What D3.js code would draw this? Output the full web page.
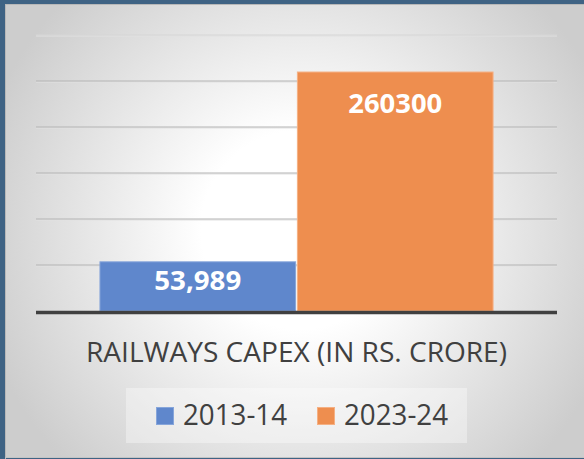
<!DOCTYPE html>
<html lang="en">
<head>
    <meta charset="utf-8">
    <title>Railways capex</title>
    <script type="text/javascript" src="https://d3js.org/d3.v7.min.js"></script>
    <style type="text/css">
        html, body { margin: 0; padding: 0; background: #3f6384; }
        svg { display: block; font-family: "Open Sans", sans-serif; }
    </style>
</head>
<body>
<script type="text/javascript">

    var categories = ["RAILWAYS CAPEX (IN RS. CRORE)"];
    var series = ["2013-14", "2023-24"];
    var values = [53989, 260300];
    var valueLabels = ["53,989", "260300"];
    var yTicks = [0, 50000, 100000, 150000, 200000, 250000, 300000];

    var colors = ["#5f87cc", "#ee8e4f"];
    var borders = ["#86a5da", "#f5b083"];

    var width = 584, height = 459;

    var svg = d3.select("body")
        .append("svg")
        .attr("width", width)
        .attr("height", height);

    var defs = svg.append("defs");
    var grad = defs.append("radialGradient")
        .attr("id", "bg")
        .attr("gradientUnits", "userSpaceOnUse")
        .attr("cx", 300).attr("cy", 230).attr("r", 330);
    grad.append("stop").attr("offset", "0%").attr("stop-color", "#ffffff");
    grad.append("stop").attr("offset", "30%").attr("stop-color", "#ffffff");
    grad.append("stop").attr("offset", "100%").attr("stop-color", "#cdcdcd");

    // chart area inside the dark frame
    svg.append("rect")
        .attr("x", 5).attr("y", 4)
        .attr("width", width - 5).attr("height", height - 5)
        .attr("fill", "url(#bg)");
    svg.append("line")
        .attr("x1", 5).attr("x2", width)
        .attr("y1", 4.5).attr("y2", 4.5)
        .attr("stroke", "#b8b8b8");
    svg.append("line")
        .attr("x1", 5.5).attr("x2", 5.5)
        .attr("y1", 4).attr("y2", height)
        .attr("stroke", "#b8b8b8");
    svg.append("line")
        .attr("x1", 5).attr("x2", width)
        .attr("y1", height - 1.5).attr("y2", height - 1.5)
        .attr("stroke", "#c4c4c4");

    var plotLeft = 36, plotRight = 557, plotTop = 35, plotBottom = 311;

    var y = d3.scaleLinear()
        .domain([0, 300000])
        .range([plotBottom, plotTop]);

    var x0 = d3.scaleBand()
        .domain(categories)
        .range([plotLeft, plotRight])
        .paddingOuter(0.161);

    var x1 = d3.scaleBand()
        .domain(series)
        .range([0, x0.bandwidth()])
        .paddingInner(0.004);

    // gridlines
    var grid = svg.append("g");
    grid.selectAll(".g1")
        .data(yTicks.slice(1))
        .enter().append("line")
        .attr("x1", plotLeft).attr("x2", plotRight)
        .attr("y1", function(d) { return y(d) + 1; })
        .attr("y2", function(d) { return y(d) + 1; })
        .attr("stroke", "#e2e2e2")
        .attr("stroke-width", 1);
    grid.selectAll(".g2")
        .data(yTicks.slice(1))
        .enter().append("line")
        .attr("x1", plotLeft).attr("x2", plotRight)
        .attr("y1", function(d) { return y(d); })
        .attr("y2", function(d) { return y(d); })
        .attr("stroke", function(d, i) { return i == yTicks.length - 2 ? "#d6d6d6" : "#b4b4b4"; })
        .attr("stroke-width", 1.2);

    // bars
    var bars = svg.append("g")
        .attr("transform", "translate(" + x0(categories[0]) + ",0)");

    bars.selectAll("rect")
        .data(values)
        .enter().append("rect")
        .attr("x", function(d, i) { return x1(series[i]) + 0.5; })
        .attr("y", function(d) { return y(d) + 0.5; })
        .attr("width", x1.bandwidth() - 1)
        .attr("height", function(d) { return y(0) - y(d) - 0.5; })
        .attr("fill", function(d, i) { return colors[i]; })
        .attr("stroke", function(d, i) { return borders[i]; })
        .attr("stroke-width", 1);

    var labelDy = [28.5, 41];
    bars.selectAll(".lbl")
        .data(values)
        .enter().append("text")
        .attr("class", "lbl")
        .attr("x", function(d, i) { return x1(series[i]) + x1.bandwidth() / 2; })
        .attr("y", function(d, i) { return y(d) + labelDy[i]; })
        .attr("text-anchor", "middle")
        .attr("fill", "#ffffff")
        .attr("font-weight", "bold")
        .attr("font-size", "26px")
        .attr("textLength", function(d, i) { return i == 0 ? 87 : 94; })
        .attr("lengthAdjust", "spacingAndGlyphs")
        .text(function(d, i) { return valueLabels[i]; });

    // baseline axis
    svg.append("line")
        .attr("x1", plotLeft).attr("x2", plotRight)
        .attr("y1", y(0) + 1.5).attr("y2", y(0) + 1.5)
        .attr("stroke", "#404040")
        .attr("stroke-width", 3.5);

    // category title
    svg.append("text")
        .attr("x", x0(categories[0]) + x0.bandwidth() / 2)
        .attr("y", 362)
        .attr("text-anchor", "middle")
        .attr("fill", "#404040")
        .attr("font-size", "28px")
        .attr("textLength", 421)
        .attr("lengthAdjust", "spacingAndGlyphs")
        .text(categories[0]);

    // legend
    var legend = svg.append("g");
    legend.append("rect")
        .attr("x", 126).attr("y", 388)
        .attr("width", 341).attr("height", 55)
        .attr("fill", "#ffffff")
        .attr("fill-opacity", 0.35);

    var legX = [156, 317];
    var item = legend.selectAll(".item")
        .data(series)
        .enter().append("g")
        .attr("transform", function(d, i) { return "translate(" + legX[i] + ",0)"; });

    item.append("rect")
        .attr("x", 0.5).attr("y", 407.5)
        .attr("width", 17).attr("height", 17)
        .attr("fill", function(d, i) { return colors[i]; })
        .attr("stroke", function(d, i) { return borders[i]; });

    item.append("text")
        .attr("x", 27)
        .attr("y", 425)
        .attr("fill", "#404040")
        .attr("font-size", "29px")
        .attr("textLength", 104)
        .attr("lengthAdjust", "spacingAndGlyphs")
        .text(function(d) { return d; });

</script>
</body>
</html>
